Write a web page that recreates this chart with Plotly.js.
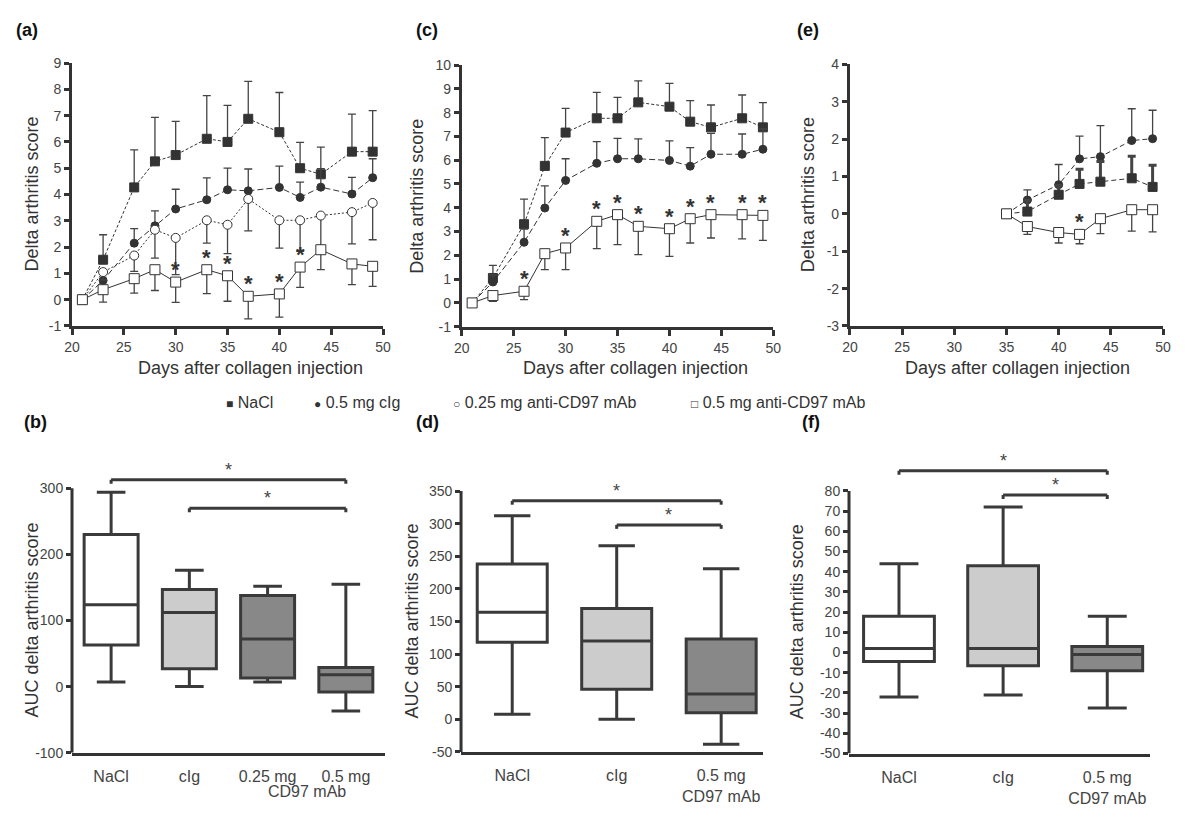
<!DOCTYPE html>
<html>
<head>
<meta charset="utf-8">
<script src="https://cdn.plot.ly/plotly-3.0.1.min.js"></script>
<style>html,body{margin:0;padding:0;background:#fff;}#chart{width:1200px;height:823px;}</style>
</head>
<body>
<div id="chart"></div>
<script>
// ---------- Data: panel (a) ----------
const daysA = [21, 23, 26, 28, 30, 33, 35, 37, 40, 42, 44, 47, 49];
const aNaCl = [0, 1.52, 4.27, 5.26, 5.5, 6.12, 6.0, 6.88, 6.37, 5.0, 4.77, 5.63, 5.63];
const aNaClErr = [0, 0.95, 1.43, 1.67, 1.28, 1.64, 1.39, 1.42, 1.51, 0.98, 1.03, 1.43, 1.56];
const aCIg = [0, 0.73, 2.15, 2.81, 3.45, 3.8, 4.18, 4.14, 4.27, 3.89, 4.28, 4.02, 4.64];
const aCIgErr = [0, 0.3, 0.55, 0.57, 0.75, 0.83, 0.82, 0.83, 0.81, 0.58, 0.7, 0.63, 0.72];
const aLow = [0, 1.05, 1.68, 2.66, 2.35, 3.02, 2.85, 3.83, 3.02, 3.02, 3.2, 3.33, 3.68];
const aLowErr = [0, 0.3, 0.6, 1.08, 1.4, 0.87, 1.1, 1.21, 1.06, 1.18, 1.25, 1.21, 1.4];
const aHigh = [0, 0.38, 0.8, 1.14, 0.67, 1.14, 0.91, 0.13, 0.22, 1.24, 1.9, 1.36, 1.27];
const aHighErr = [0, 0.47, 0.55, 0.79, 0.77, 0.91, 0.97, 0.86, 0.88, 0.77, 0.76, 0.79, 0.76];
const aStarDays = [30, 33, 35, 37, 40, 42];

// ---------- Data: panel (c) ----------
const daysC = [21, 23, 26, 28, 30, 33, 35, 37, 40, 42, 44, 47, 49];
const cNaCl = [0, 1.05, 3.31, 5.76, 7.16, 7.76, 7.76, 8.43, 8.25, 7.62, 7.38, 7.76, 7.38];
const cNaClErr = [0, 0.53, 1.05, 1.19, 1.02, 1.09, 0.88, 0.9, 0.98, 0.88, 0.94, 0.98, 1.04];
const cCIg = [0, 0.88, 2.55, 3.99, 5.15, 5.87, 6.06, 6.06, 5.99, 5.75, 6.25, 6.25, 6.46];
const cCIgErr = [0, 0.3, 0.55, 0.93, 0.91, 0.91, 0.86, 0.84, 0.82, 0.78, 0.88, 0.85, 0.85];
const cHigh = [0, 0.31, 0.49, 2.07, 2.31, 3.43, 3.71, 3.22, 3.12, 3.54, 3.71, 3.71, 3.68];
const cHighErr = [0, 0.24, 0.35, 0.67, 0.91, 1.15, 1.26, 1.19, 1.16, 1.02, 0.98, 1.02, 1.05];
const cStarDays = [26, 30, 33, 35, 37, 40, 42, 44, 47, 49];

// ---------- Data: panel (e) ----------
const daysE = [35, 37, 40, 42, 44, 47, 49];
const eNaCl = [0, 0.06, 0.51, 0.8, 0.86, 0.95, 0.72];
const eNaClErr = [0, 0.3, 0.25, 0.39, 0.54, 0.59, 0.58];
const eCIg = [0, 0.37, 0.78, 1.47, 1.53, 1.96, 2.01];
const eCIgErr = [0, 0.27, 0.54, 0.61, 0.83, 0.85, 0.76];
const eHigh = [0, -0.34, -0.5, -0.55, -0.13, 0.11, 0.11];
const eHighErr = [0, 0.21, 0.28, 0.25, 0.4, 0.57, 0.59];
const eStarDays = [42];

// ---------- Data: box panels ----------
const bCats = ['NaCl', 'cIg', '0.25 mg', '0.5 mg'];
const bQ1 = [63, 27, 13, -8];
const bMed = [124, 112, 72, 18];
const bQ3 = [230, 147, 138, 29];
const bLow = [7, 0, 7, -37];
const bHigh = [294, 176, 152, 155];
const bBrFrom = [0, 1], bBrTo = [3, 3], bBrLevel = [313, 270];

const dCats = ['NaCl', 'cIg', '0.5 mg<br>CD97 mAb'];
const dQ1 = [118, 46, 10];
const dMed = [164, 120, 39];
const dQ3 = [238, 170, 123];
const dLow = [8, 0, -38];
const dHigh = [312, 266, 231];
const dBrFrom = [0, 1], dBrTo = [2, 2], dBrLevel = [335, 298];

const fCats = ['NaCl', 'cIg', '0.5 mg<br>CD97 mAb'];
const fQ1 = [-4.5, -6.5, -9];
const fMed = [2, 2, -1];
const fQ3 = [18, 43, 3];
const fLow = [-22, -21, -27.5];
const fHigh = [44, 72, 18];
const fBrFrom = [0, 1], fBrTo = [2, 2], fBrLevel = [90, 78];

const legendLabels = ['NaCl', '0.5 mg cIg', '0.25 mg anti-CD97 mAb', '0.5 mg anti-CD97 mAb'];
const legendSymbols = ['■', '●', '○', '□'];

// ---------- Styles ----------
const DARK = '#333333';
const FONT = 'Liberation Sans, Arial, Helvetica, sans-serif';
const zeros = n => new Array(n).fill(0);

const STY = {
  nacl: {symbol: 'square', size: 9, fill: '#333333', dash: '3px,2px'},
  cig: {symbol: 'circle', size: 8, fill: '#333333', dash: '6px,3px'},
  low: {symbol: 'circle', size: 9, fill: '#ffffff', dash: '2px,2px'},
  high: {symbol: 'square', size: 10, fill: '#ffffff', dash: 'solid'}
};

function lineTrace(ax, days, vals, up, down, sty, errThick) {
  return {
    type: 'scatter', mode: 'lines+markers', x: days, y: vals,
    xaxis: 'x' + ax, yaxis: 'y' + ax, hoverinfo: 'skip', showlegend: false,
    line: {color: DARK, width: 1, dash: sty.dash},
    marker: {symbol: sty.symbol, size: sty.size, color: sty.fill, line: {color: DARK, width: 1}},
    error_y: {type: 'data', symmetric: false, array: up, arrayminus: down,
              color: '#444', thickness: errThick || 1.3, width: 4}
  };
}

const traces = [
  lineTrace('', daysA, aNaCl, aNaClErr, zeros(daysA.length), STY.nacl),
  lineTrace('', daysA, aCIg, aCIgErr, zeros(daysA.length), STY.cig),
  lineTrace('', daysA, aLow, zeros(daysA.length), aLowErr, STY.low),
  lineTrace('', daysA, aHigh, zeros(daysA.length), aHighErr, STY.high),
  lineTrace('2', daysC, cNaCl, cNaClErr, zeros(daysC.length), STY.nacl),
  lineTrace('2', daysC, cCIg, cCIgErr, zeros(daysC.length), STY.cig),
  lineTrace('2', daysC, cHigh, zeros(daysC.length), cHighErr, STY.high),
  lineTrace('3', daysE, eCIg, eCIgErr, zeros(daysE.length), Object.assign({}, STY.cig, {dash: '5px,3px'})),
  lineTrace('3', daysE, eNaCl, eNaClErr, zeros(daysE.length), Object.assign({}, STY.nacl, {dash: '5px,3px'}), 3),
  lineTrace('3', daysE, eHigh, zeros(daysE.length), eHighErr, STY.high)
];

const boxFills = ['#ffffff', '#cccccc', '#888888', '#888888'];
function addBoxes(ax, cats, q1, med, q3, lo, hi, width, ww) {
  cats.forEach((c, i) => {
    traces.push({
      type: 'box', x: [i], q1: [q1[i]], median: [med[i]], q3: [q3[i]],
      lowerfence: [lo[i]], upperfence: [hi[i]], width: width, whiskerwidth: ww,
      fillcolor: boxFills[i], line: {color: '#3a3a3a', width: 3},
      boxpoints: false, xaxis: 'x' + ax, yaxis: 'y' + ax, hoverinfo: 'skip', showlegend: false
    });
  });
}
addBoxes('4', bCats, bQ1, bMed, bQ3, bLow, bHigh, 0.69, 0.53);
addBoxes('5', dCats, dQ1, dMed, dQ3, dLow, dHigh, 0.67, 0.52);
addBoxes('6', fCats, fQ1, fMed, fQ3, fLow, fHigh, 0.68, 0.55);

// ---------- Axes ----------
const tickFont = {family: FONT, size: 14, color: '#444'};
const titleFont = {family: FONT, size: 18, color: '#333'};
const asText = arr => arr.map(v => String(v));  // plain hyphen minus, as in the original

function timeX(domain, anchor) {
  return {domain: domain, anchor: anchor, range: [20, 50], tickvals: [20, 25, 30, 35, 40, 45, 50],
    showline: true, linecolor: DARK, linewidth: 3, ticks: 'outside', ticklen: 6, tickwidth: 3, tickcolor: DARK,
    showgrid: false, zeroline: false, tickfont: tickFont};
}
function scoreY(domain, anchor, range) {
  const tv = [];
  for (let v = range[0]; v <= range[1]; v++) tv.push(v);
  return {domain: domain, anchor: anchor, range: range, tickvals: tv, ticktext: asText(tv),
    showline: true, linecolor: DARK, linewidth: 3, ticks: 'outside', ticklen: 5, tickwidth: 3, tickcolor: DARK,
    showgrid: false, zeroline: false, tickfont: tickFont};
}
function catX(domain, anchor, range, cats) {
  return {domain: domain, anchor: anchor, range: range, tickvals: cats.map((c, i) => i), ticktext: cats,
    showline: true, linecolor: DARK, linewidth: 3, ticks: '', showgrid: false, zeroline: false,
    tickfont: {family: FONT, size: 16, color: '#444'}, ticklabelstandoff: 7};
}
function aucY(domain, anchor, range, tickvals) {
  return {domain: domain, anchor: anchor, range: range, tickvals: tickvals, ticktext: asText(tickvals),
    showline: false, ticks: 'outside', ticklen: 5, tickwidth: 3, tickcolor: DARK,
    showgrid: false, zeroline: false, tickfont: tickFont};
}
const range = (a, b, s) => { const r = []; for (let v = a; v <= b; v += s) r.push(v); return r; };
const bTicks = range(-100, 300, 100), dTicks = range(-50, 350, 50), fTicks = range(-50, 80, 10);

// ---------- Shapes (axis lines of box panels + brackets) ----------
const shapes = [];
function yAxisLine(ax, lo, hi) {
  shapes.push({type: 'line', xref: 'x' + ax + ' domain', yref: 'y' + ax, x0: 0, x1: 0, y0: lo, y1: hi,
    line: {color: DARK, width: 3}});
}
yAxisLine('4', bTicks[0], bTicks[bTicks.length - 1]);
yAxisLine('5', dTicks[0], dTicks[dTicks.length - 1]);
yAxisLine('6', fTicks[0], fTicks[fTicks.length - 1]);

const annotations = [];
function brackets(ax, from, to, level, drop) {
  from.forEach((f, i) => {
    const t = to[i], lv = level[i];
    const common = {type: 'line', xref: 'x' + ax, yref: 'y' + ax, line: {color: '#3a3a3a', width: 3}};
    shapes.push(Object.assign({}, common, {x0: f, x1: t, y0: lv, y1: lv}));
    shapes.push(Object.assign({}, common, {x0: f, x1: f, y0: lv, y1: lv - drop}));
    shapes.push(Object.assign({}, common, {x0: t, x1: t, y0: lv, y1: lv - drop}));
    annotations.push({xref: 'x' + ax, yref: 'y' + ax, x: (f + t) / 2, y: lv, text: '*', showarrow: false,
      yanchor: 'bottom', yshift: -2, font: {family: FONT, size: 18, color: '#444'}});
  });
}
brackets('4', bBrFrom, bBrTo, bBrLevel, 6);
brackets('5', dBrFrom, dBrTo, dBrLevel, 6);
brackets('6', fBrFrom, fBrTo, fBrLevel, 2);

// significance stars on time courses
function stars(ax, days, starDays, vals) {
  starDays.forEach(d => {
    const i = days.indexOf(d);
    annotations.push({xref: 'x' + ax, yref: 'y' + ax, x: d, y: vals[i], text: '<b>*</b>', showarrow: false,
      yanchor: 'bottom', yshift: -2, font: {family: FONT, size: 22, color: '#333'}});
  });
}
stars('', daysA, aStarDays, aHigh);
stars('2', daysC, cStarDays, cHigh);
stars('3', daysE, eStarDays, eHigh);

// axis titles (placed as text)
const yTitles = [
  ['Delta arthritis score', 32, [0.6039, 0.9234]],
  ['Delta arthritis score', 417, [0.603, 0.921]],
  ['Delta arthritis score', 808, [0.6039, 0.9219]],
  ['AUC delta arthritis score', 32, [0.0854, 0.4067]],
  ['AUC delta arthritis score', 412, [0.0863, 0.4034]],
  ['AUC delta arthritis score', 797, [0.0844, 0.4034]]
];
yTitles.forEach(t => annotations.push({xref: 'paper', yref: 'paper', x: t[1] / 1200, y: (t[2][0] + t[2][1]) / 2,
  text: t[0], textangle: -90, showarrow: false, xanchor: 'center', yanchor: 'middle', font: titleFont}));
const xTitleCenters = [250, 635, 1017];
xTitleCenters.forEach(cx => annotations.push({xref: 'paper', yref: 'paper', x: cx / 1200, y: 1 - 368 / 823,
  text: 'Days after collagen injection', showarrow: false, xanchor: 'center', yanchor: 'middle', font: titleFont}));

// panel letters
const letters = [['(a)', 14, 30], ['(c)', 414, 30], ['(e)', 795, 30], ['(b)', 22, 422], ['(d)', 414, 422], ['(f)', 800, 422]];
letters.forEach(l => annotations.push({xref: 'paper', yref: 'paper', x: l[1] / 1200, y: 1 - l[2] / 823,
  xanchor: 'left', yanchor: 'middle', text: '<b>' + l[0] + '</b>', showarrow: false,
  font: {family: FONT, size: 18, color: '#111'}}));

// "CD97 mAb" second line under the two antibody doses in (b)
annotations.push({xref: 'x4', yref: 'paper', x: 2.5, y: 1 - 791 / 823, text: 'CD97 mAb', showarrow: false,
  yanchor: 'middle', font: {family: FONT, size: 16, color: '#444'}});

// legend row
const legendX = [224, 312, 451, 689];
legendLabels.forEach((lab, i) => annotations.push({xref: 'paper', yref: 'paper', x: legendX[i] / 1200, y: 1 - 402 / 823,
  xanchor: 'left', yanchor: 'middle', showarrow: false,
  text: '<span style="font-size:12px">' + legendSymbols[i] + '</span> ' + lab,
  font: {family: FONT, size: 16, color: '#333'}}));

const layout = {
  width: 1200, height: 823, margin: {l: 0, r: 0, t: 0, b: 0},
  paper_bgcolor: '#fff', plot_bgcolor: 'rgba(0,0,0,0)', showlegend: false,
  font: {family: FONT, color: '#333'},
  xaxis: timeX([0.06, 0.3192], 'y'),
  yaxis: scoreY([0.6039, 0.9234], 'x', [-1, 9]),
  xaxis2: timeX([0.3848, 0.6444], 'y2'),
  yaxis2: scoreY([0.603, 0.921], 'x2', [-1, 10]),
  xaxis3: timeX([0.7083, 0.9692], 'y3'),
  yaxis3: scoreY([0.6039, 0.9219], 'x3', [-3, 4]),
  xaxis4: catX([0.06, 0.3208], 'y4', [-0.5, 3.5], bCats),
  yaxis4: aucY([0.0854, 0.4227], 'x4', [-100, 320], bTicks),
  xaxis5: catX([0.3842, 0.6358], 'y5', [-0.49, 2.4], dCats),
  yaxis5: aucY([0.0863, 0.4034], 'x5', [-50, 350], dTicks),
  xaxis6: catX([0.7075, 0.9583], 'y6', [-0.48, 2.41], fCats),
  yaxis6: aucY([0.0844, 0.4403], 'x6', [-50, 95], fTicks),
  shapes: shapes, annotations: annotations
};

Plotly.newPlot('chart', traces, layout, {staticPlot: true, displayModeBar: false});
</script>
</body>
</html>
